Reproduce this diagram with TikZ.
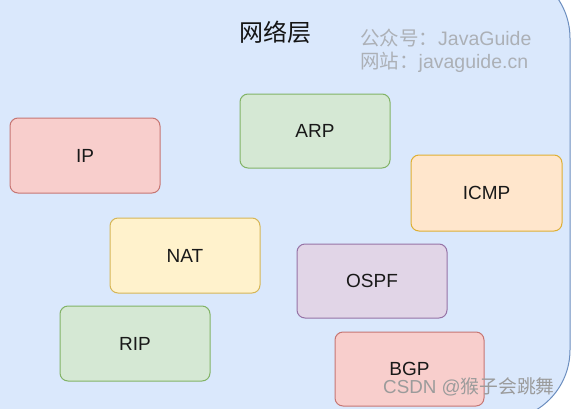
\documentclass[tikz,border=0pt]{standalone}
\usepackage{fontspec}
\setmainfont{Liberation Sans}
\newfontfamily\cjk{Noto Sans CJK SC}
\definecolor{bgfill}{HTML}{DAE8FC}
\definecolor{bgline}{HTML}{6C8EBF}
\definecolor{redfill}{HTML}{F8CECC}
\definecolor{redline}{HTML}{B85450}
\definecolor{greenfill}{HTML}{D5E8D4}
\definecolor{greenline}{HTML}{82B366}
\definecolor{orangefill}{HTML}{FFE6CC}
\definecolor{orangeline}{HTML}{D79B00}
\definecolor{yellowfill}{HTML}{FFF2CC}
\definecolor{yellowline}{HTML}{D6B656}
\definecolor{purplefill}{HTML}{E1D5E7}
\definecolor{purpleline}{HTML}{9673A6}
\definecolor{wmgray}{RGB}{172,176,182}
\definecolor{csdngray}{RGB}{155,155,155}
\tikzset{
  protobox/.style={draw, line width=1pt, rounded corners=8pt, minimum width=150pt,
    minimum height=75pt, inner sep=0pt, font=\fontsize{19}{22}\selectfont, text=black!90},
  redbox/.style={protobox, fill=redfill, draw=redline!80},
  greenbox/.style={protobox, fill=greenfill, draw=greenline},
  orangebox/.style={protobox, fill=orangefill, draw=orangeline!80},
  yellowbox/.style={protobox, fill=yellowfill, draw=yellowline},
  purplebox/.style={protobox, fill=purplefill, draw=purpleline},
  wmtext/.style={anchor=west, inner sep=0pt, text=wmgray, font=\fontsize{19.5}{22}\selectfont},
}
\begin{document}
\begin{tikzpicture}[x=1pt,y=-1pt]
\useasboundingbox (0,0) rectangle (571,408);
\begin{scope}
\clip (0,0) rectangle (571,408);
\draw[fill=bgfill, draw=bgline, line width=1pt, rounded corners=70pt] (-60,-32) rectangle (570,420);
\end{scope}
\node[inner sep=0pt, font=\cjk\fontsize{24}{26}\selectfont, text=black!92] (title) at (275,32) {网络层};
\node[wmtext] (wm1) at (360,38) {{\cjk 公众号：}JavaGuide};
\node[wmtext] (wm2) at (360,62) {{\cjk 网站：}javaguide.cn};
\node[redbox] (ip) at (85,155.5) {IP};
\node[greenbox, minimum height=74pt] (arp) at (315,131) {ARP};
\node[orangebox, minimum width=151pt, minimum height=76pt] (icmp) at (486.5,193) {ICMP};
\node[yellowbox] (nat) at (185,255.5) {NAT};
\node[purplebox, minimum height=74pt] (ospf) at (372,281) {OSPF};
\node[greenbox] (rip) at (135,343.5) {RIP};
\node[redbox, minimum width=149pt, minimum height=74pt] (bgp) at (409.5,369) {BGP};
\node[anchor=west, inner sep=0pt, text=csdngray, font=\fontsize{18.8}{21}\selectfont] (csdn) at (383,387) {CSDN @{\cjk 猴子会跳舞}};
\end{tikzpicture}
\end{document}
